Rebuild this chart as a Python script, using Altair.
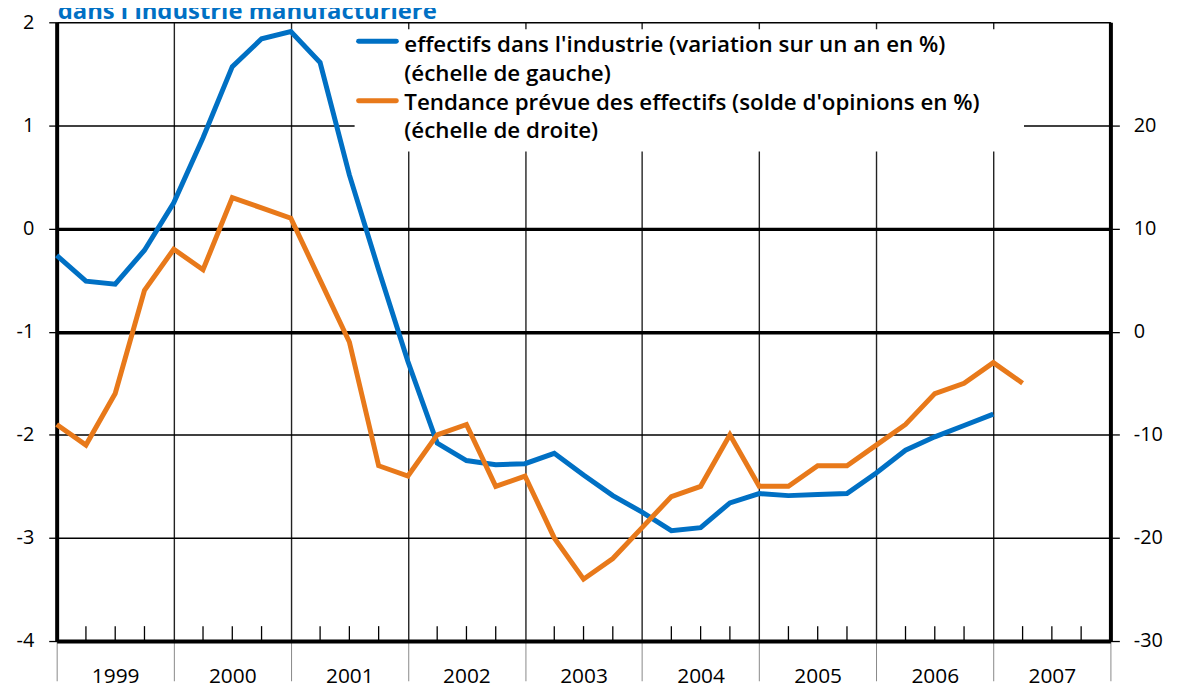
import altair as alt
import pandas as pd

# ---------------- data ----------------
title_text = ["dans l'industrie manufacturière"]
years = [1999, 2000, 2001, 2002, 2003, 2004, 2005, 2006, 2007]
legend_labels = [
    "effectifs dans l'industrie (variation sur un an en %)\n(échelle de gauche)",
    "Tendance prévue des effectifs (solde d'opinions en %)\n(échelle de droite)",
]
# quarterly values, first quarter 1999 onwards
blue_values = [-0.26, -0.51, -0.54, -0.21, 0.25, 0.88, 1.57, 1.84, 1.91, 1.61,
               0.52, -0.40, -1.29, -2.08, -2.25, -2.29, -2.28, -2.18, -2.39, -2.59,
               -2.75, -2.93, -2.90, -2.66, -2.57, -2.59, -2.58, -2.57, -2.37, -2.15,
               -2.02, -1.91, -1.80]
orange_values = [-9, -11, -6, 4, 8, 6, 13, 12, 11, 5,
                 -1, -13, -14, -10, -9, -15, -14, -20, -24, -22,
                 -19, -16, -15, -10, -15, -15, -13, -13, -11, -9,
                 -6, -5, -3, -5]
left_ticks = [-4, -3, -2, -1, 0, 1, 2]
right_ticks = [-30, -20, -10, 0, 10, 20]

# ---------------- style ----------------
W, H = 1061, 623
BLUE = "#0070C4"
ORANGE = "#E8791A"
FONT = "Open Sans"


def qpos(i):
    return years[0] + i / 4


blue_df = pd.DataFrame({"t": [qpos(i) for i in range(len(blue_values))], "v": blue_values})
orange_df = pd.DataFrame({"t": [qpos(i) for i in range(len(orange_values))], "v": orange_values})
qticks_df = pd.DataFrame({"t": [qpos(i) for i in range(4 * len(years)) if i % 4]})
one = pd.DataFrame({"a": [0]})

x_scale = alt.Scale(domain=[years[0], years[-1] + 1], nice=False, zero=False)

x_axis = alt.Axis(
    values=years + [years[-1] + 1], format="d",
    labelExpr="datum.value <= %d ? datum.label : ''" % years[-1],
    labelOffset=W / len(years) / 2, labelFlush=False, labelOverlap=False, labelBound=False,
    labelFont=FONT, labelFontSize=21, labelColor="black", labelPadding=-15,
    tickSize=40, tickColor="#888888", tickWidth=1,
    grid=True, gridColor="#222222", gridWidth=1.4,
    domainColor="black", domainWidth=4, title=None,
)
left_axis = alt.Axis(
    values=left_ticks, grid=True, gridColor="black",
    gridWidth={"condition": {"test": "datum.value == 0 || datum.value == -1", "value": 3.5}, "value": 1.6},
    labelExpr="'' + datum.value",
    tickSize=8, tickWidth=1.3, tickColor="black",
    labelFont=FONT, labelFontSize=20, labelColor="black", labelPadding=15,
    domainColor="black", domainWidth=4, title=None,
)
right_axis = alt.Axis(
    values=right_ticks, orient="right", grid=False,
    labelExpr="'' + datum.value",
    tickSize=9, tickWidth=1.3, tickColor="black",
    labelFont=FONT, labelFontSize=20, labelColor="black", labelPadding=14,
    domainColor="black", domainWidth=4, title=None,
)

X = alt.X("t:Q", scale=x_scale, axis=x_axis)

box = alt.Chart(one).mark_rect(fill="white").encode(
    x=alt.value(300), x2=alt.value(974), y=alt.value(7), y2=alt.value(130)
)

qticks = alt.Chart(qticks_df).mark_rule(color="black", strokeWidth=1.3).encode(
    x=X, y=alt.value(H - 15), y2=alt.value(H)
)

blue_line = alt.Chart(blue_df).mark_line(color=BLUE, strokeWidth=5, strokeJoin="miter").encode(
    x=X,
    y=alt.Y("v:Q", scale=alt.Scale(domain=[-4, 2], nice=False, zero=False), axis=left_axis),
)

orange_line = alt.Chart(orange_df).mark_line(color=ORANGE, strokeWidth=5, strokeJoin="miter").encode(
    x=X,
    y=alt.Y("v:Q", scale=alt.Scale(domain=[-30, 30], nice=False, zero=False), axis=right_axis),
)

sym_blue = alt.Chart(one).mark_rule(color=BLUE, strokeWidth=5, strokeCap="round").encode(
    x=alt.value(304), x2=alt.value(342), y=alt.value(19)
)
sym_orange = alt.Chart(one).mark_rule(color=ORANGE, strokeWidth=5, strokeCap="round").encode(
    x=alt.value(304), x2=alt.value(342), y=alt.value(79)
)

legend_df = pd.DataFrame({"label": legend_labels})
txt_style = dict(align="left", baseline="alphabetic", font=FONT, fontSize=22.5, fontWeight=600,
                 lineBreak="\n", lineHeight=29, color="black")
txt1 = alt.Chart(legend_df.iloc[[0]]).mark_text(**txt_style).encode(
    x=alt.value(350), y=alt.value(30), text="label:N")
txt2 = alt.Chart(legend_df.iloc[[1]]).mark_text(**txt_style).encode(
    x=alt.value(350), y=alt.value(88), text="label:N")

title = alt.Chart(pd.DataFrame({"title": title_text})).mark_text(
    align="left", baseline="alphabetic", font=FONT, fontSize=24, fontWeight="bold", color=BLUE
).encode(x=alt.value(1), y=alt.value(-3), text="title:N")

chart = alt.layer(
    box, qticks, blue_line, orange_line, sym_blue, sym_orange, txt1, txt2, title
).resolve_scale(y="independent").properties(
    width=W, height=H,
    padding={"left": 49, "top": 12, "right": 60, "bottom": 60},
    autosize=alt.AutoSizeParams(type="none"),
).configure_view(stroke=None)

chart.save("out.html", embed_options={"renderer": "svg", "actions": False})
